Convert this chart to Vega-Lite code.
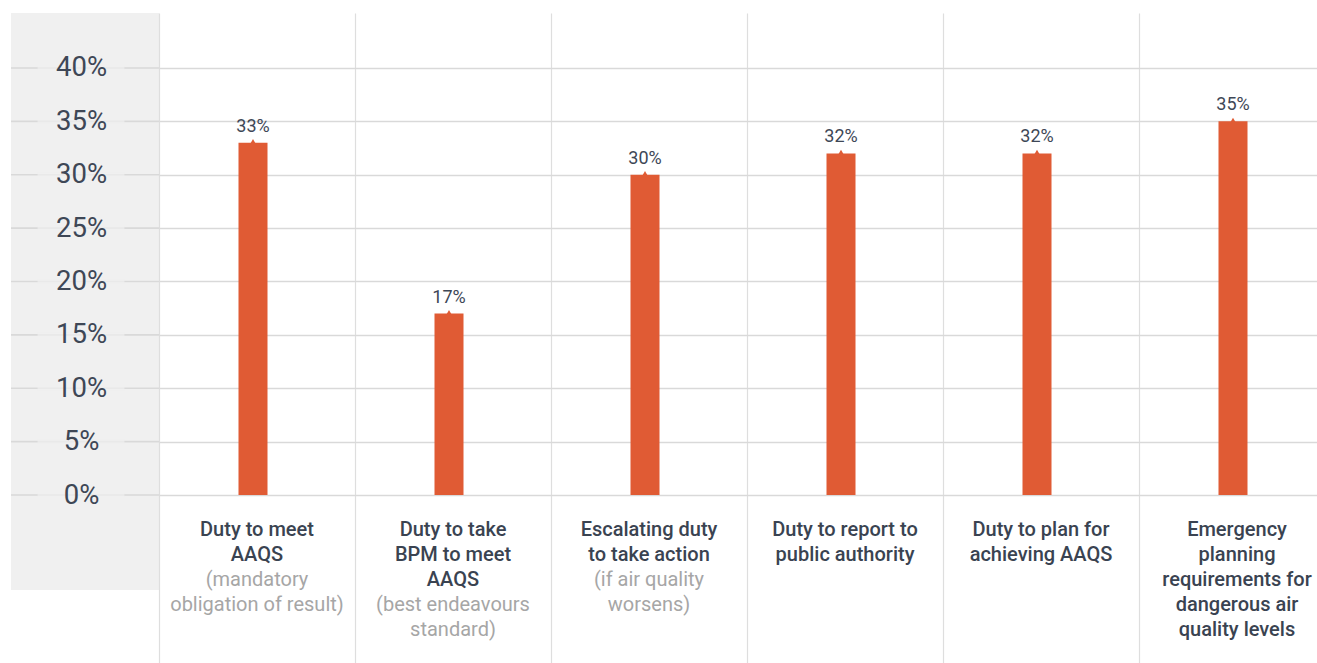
{
  "$schema": "https://vega.github.io/schema/vega-lite/v6.json",
  "padding": {"left": 10, "top": 13, "right": 0, "bottom": 0},
  "spacing": 0,
  "bounds": "flush",
  "config": {
    "view": {"stroke": null},
    "font": "Roboto",
    "text": {"font": "Roboto"}
  },
  "datasets": {
    "ticks": [
      {"v": 0}, {"v": 0.05}, {"v": 0.10}, {"v": 0.15}, {"v": 0.20},
      {"v": 0.25}, {"v": 0.30}, {"v": 0.35}, {"v": 0.40}
    ],
    "duties": [
      {"title": "Duty to meet\nAAQS", "note": "(mandatory\nobligation of result)", "share": 0.33},
      {"title": "Duty to take\nBPM to meet\nAAQS", "note": "(best endeavours\nstandard)", "share": 0.17},
      {"title": "Escalating duty\nto take action", "note": "(if air quality\nworsens)", "share": 0.30},
      {"title": "Duty to report to\npublic authority", "note": "", "share": 0.32},
      {"title": "Duty to plan for\nachieving AAQS", "note": "", "share": 0.32},
      {"title": "Emergency\nplanning\nrequirements for\ndangerous air\nquality levels", "note": "", "share": 0.35}
    ]
  },
  "hconcat": [
    {
      "width": 148,
      "height": 577,
      "view": {"fill": "#f0f0f0", "stroke": null},
      "data": {"name": "ticks"},
      "layer": [
        {
          "mark": {"type": "rule", "color": "#d9d9d9", "strokeWidth": 1.6},
          "encoding": {
            "y": {
              "field": "v", "type": "quantitative",
              "scale": {"domain": [0, 0.4515], "range": [482, 0], "nice": false},
              "axis": {
                "orient": "left", "offset": -70, "values": [0, 0.05, 0.1, 0.15, 0.2, 0.25, 0.3, 0.35, 0.4],
                "format": ".0%", "ticks": false, "tickSize": 0, "domain": false, "grid": false,
                "labelPadding": 0, "labelAlign": "center", "labelBaseline": "middle",
                "labelFontSize": 27.5, "labelColor": "#3e4756", "labelFont": "Roboto", "title": null, "zindex": 1
              }
            }
          }
        },
        {
          "mark": {"type": "tick", "color": "#f0f0f0", "size": 87, "thickness": 4, "xOffset": -4},
          "encoding": {
            "y": {"field": "v", "type": "quantitative"}
          }
        }
      ]
    },
    {
      "width": 1159,
      "height": 650,
      "data": {"name": "duties"},
      "encoding": {
        "x": {
          "field": "title", "type": "nominal", "sort": null,
          "scale": {"range": [0, 1176], "paddingInner": 0, "paddingOuter": 0},
          "axis": {"grid": true, "bandPosition": 0, "gridColor": "#dedede", "gridWidth": 1.2, "labels": false, "ticks": false, "domain": false, "title": null}
        }
      },
      "layer": [
        {
          "mark": {"type": "bar", "color": "#e05b34", "width": 29, "xOffset": -4},
          "encoding": {
            "y": {
              "field": "share", "type": "quantitative",
              "scale": {"domain": [-0.15738, 0.4515], "nice": false, "zero": false},
              "axis": {"values": [0, 0.05, 0.1, 0.15, 0.2, 0.25, 0.3, 0.35, 0.4], "grid": true, "gridColor": "#d9d9d9", "gridWidth": 1.6, "labels": false, "ticks": false, "domain": false, "title": null}
            },
            "y2": {"datum": 0}
          }
        },
        {
          "mark": {"type": "point", "shape": "triangle-up", "filled": true, "opacity": 1, "size": 70, "color": "#e05b34", "xOffset": -4},
          "encoding": {"y": {"field": "share", "type": "quantitative"}}
        },
        {
          "mark": {"type": "text", "fontSize": 18, "color": "#3e4756", "baseline": "alphabetic", "dy": -11, "dx": -4},
          "encoding": {
            "y": {"field": "share", "type": "quantitative"},
            "text": {"field": "share", "type": "quantitative", "format": ".0%"}
          }
        },
        {
          "mark": {"type": "text", "fontSize": 20, "fontWeight": 500, "color": "#3a4351", "baseline": "alphabetic", "lineBreak": "\n", "lineHeight": 25, "dy": 41},
          "encoding": {
            "y": {"datum": 0, "type": "quantitative"},
            "text": {"field": "title"}
          }
        },
        {
          "transform": [{"filter": "datum.note != '' && length(split(datum.title, '\\n')) == 2"}],
          "mark": {"type": "text", "fontSize": 20, "fontWeight": 400, "color": "#a6a6a6", "baseline": "alphabetic", "lineBreak": "\n", "lineHeight": 25, "dy": 91},
          "encoding": {
            "y": {"datum": 0, "type": "quantitative"},
            "text": {"field": "note"}
          }
        },
        {
          "transform": [{"filter": "datum.note != '' && length(split(datum.title, '\\n')) == 3"}],
          "mark": {"type": "text", "fontSize": 20, "fontWeight": 400, "color": "#a6a6a6", "baseline": "alphabetic", "lineBreak": "\n", "lineHeight": 25, "dy": 116},
          "encoding": {
            "y": {"datum": 0, "type": "quantitative"},
            "text": {"field": "note"}
          }
        }
      ]
    }
  ]
}
